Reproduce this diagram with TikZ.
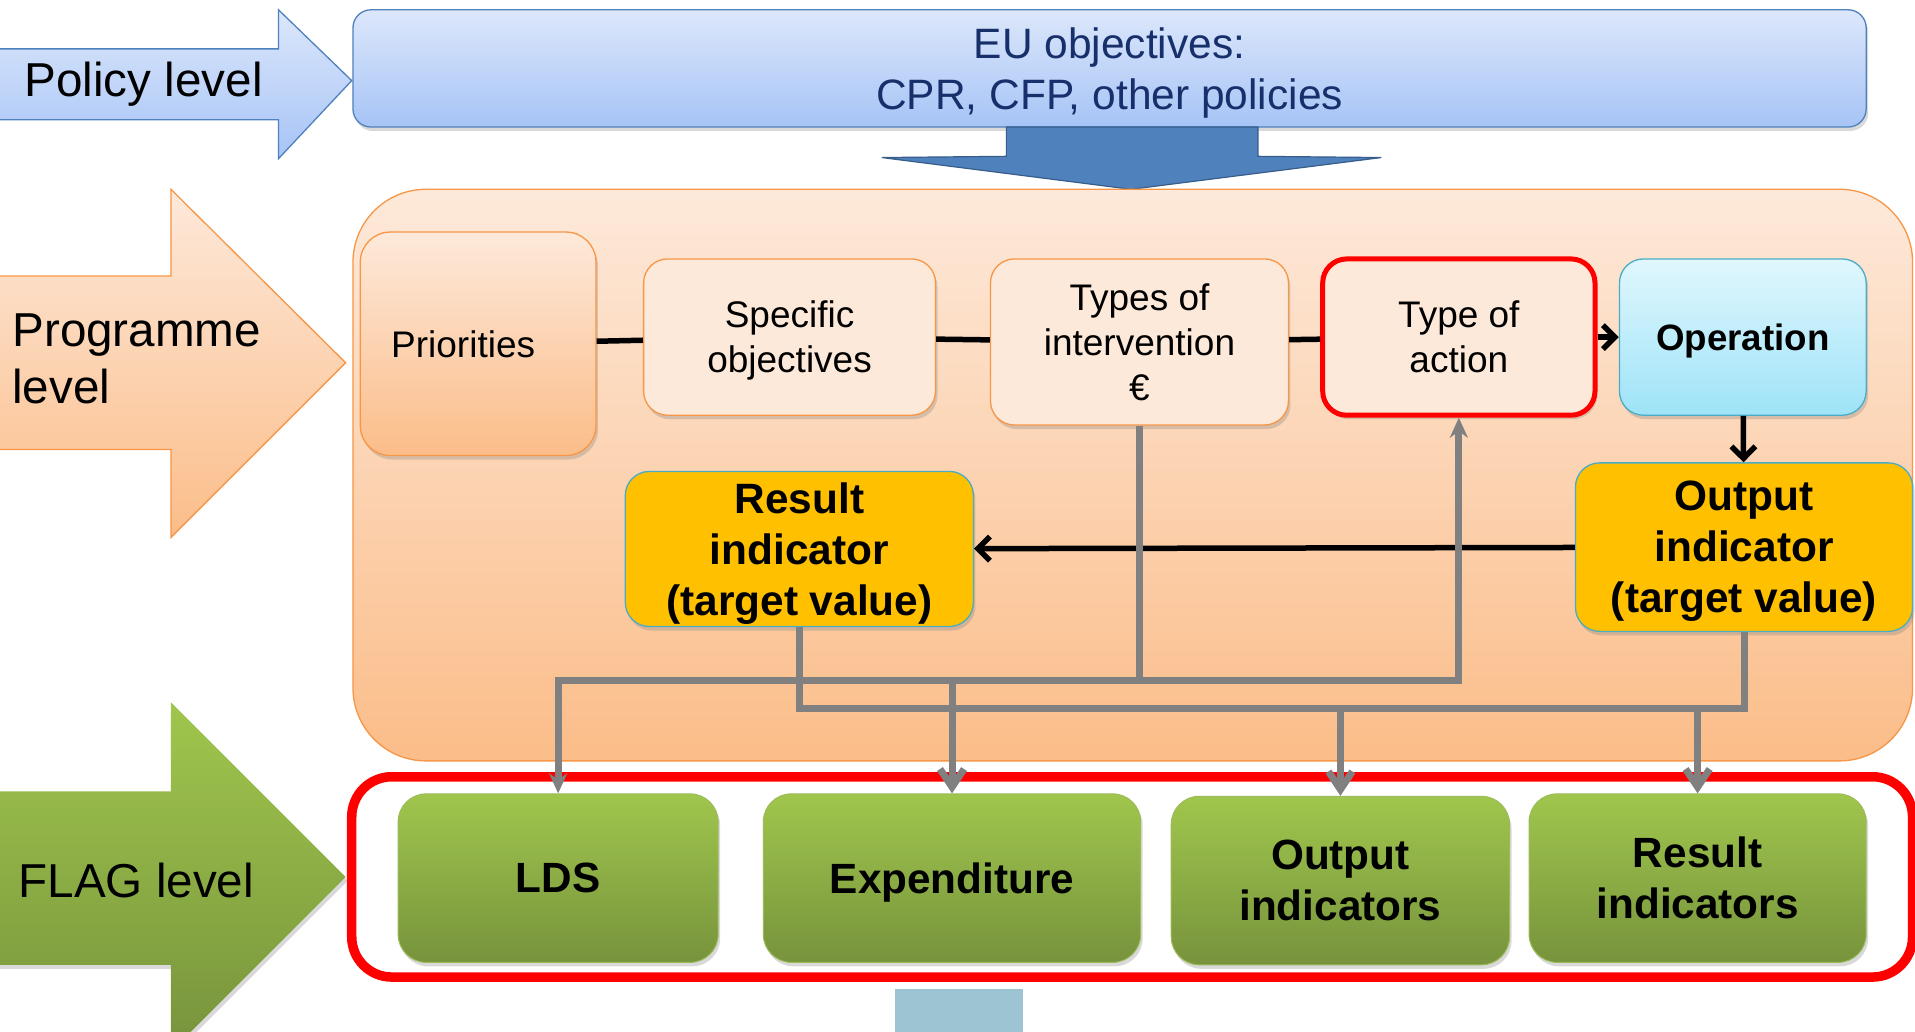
\documentclass[tikz,border=0pt]{standalone}
\usepackage{fontspec}
\setmainfont{Liberation Sans}
\usetikzlibrary{arrows.meta,shadows}

\definecolor{polblue}{HTML}{4F81BD}
\definecolor{polbluedark}{HTML}{385D8A}
\definecolor{poltop}{HTML}{DCE7FB}
\definecolor{polbot}{HTML}{A6C4F6}
\definecolor{eutext}{HTML}{17306B}
\definecolor{progorange}{HTML}{F79646}
\definecolor{progtop}{HTML}{FDE9DA}
\definecolor{progbot}{HTML}{FBBD89}
\definecolor{peach}{HTML}{FDE9D9}
\definecolor{opertop}{HTML}{E0F7FD}
\definecolor{operbot}{HTML}{9EE3F8}
\definecolor{operline}{HTML}{4BACC6}
\definecolor{indyellow}{HTML}{FFC000}
\definecolor{flagtop}{HTML}{A0C64D}
\definecolor{flagbot}{HTML}{77933C}
\definecolor{flagline}{HTML}{9BBB59}
\definecolor{stubblue}{HTML}{9DC4D2}

\begin{document}
\begin{tikzpicture}[x=1.2213pt,y=-1.2213pt,
    lvltext/.style={font=\fontsize{47.6}{57}\selectfont,align=left,anchor=west,inner sep=0pt},
    shade/.style={drop shadow={shadow xshift=2pt,shadow yshift=-4pt,opacity=0.3}},
    box/.style={draw=progorange,line width=1.3pt,rounded corners=24pt,fill=peach,align=center,
      font=\fontsize{37}{45}\selectfont,shade},
    indbox/.style={draw=operline,line width=1.3pt,rounded corners=24pt,fill=indyellow,align=center,
      font=\bfseries\fontsize{42.4}{51}\selectfont,shade},
    flagbox/.style={draw=flagline,line width=1pt,rounded corners=28pt,top color=flagtop,bottom color=flagbot,
      align=center,minimum height=168.5pt,text depth=-9pt,font=\bfseries\fontsize{42.3}{51}\selectfont,shade},
    blackline/.style={line width=5.5pt,black},
    blacktip/.style={-{Straight Barb[length=12pt,width=24pt]}},
    grayline/.style={line width=7pt,gray}]
    \useasboundingbox (0,0) rectangle (1568,845);
    \clip (0,0) rectangle (1568,845);

    % level arrows
    \draw[draw=polblue,line width=1.3pt,top color=poltop,bottom color=polbot]
        (-5,40) -- (228,40) -- (228,8) -- (288,66) -- (228,130) -- (228,98) -- (-5,98) -- cycle;
    \node[lvltext] (policy) at (20,69) {Policy level};
    \draw[draw=progorange,line width=1.3pt,top color=progtop,bottom color=progbot]
        (-5,226) -- (140,226) -- (140,155) -- (283,297) -- (140,440) -- (140,368) -- (-5,368) -- cycle;
    \node[lvltext] (programme) at (10,294) {Programme\\level};
    \shade[top color=flagtop,bottom color=flagbot]
        (-5,648) -- (140,648) -- (140,575) -- (283,718) -- (140,861) -- (140,790) -- (-5,790) -- cycle;
    \node[lvltext] (flaglvl) at (15,721) {FLAG level};

    % policy level
    \node[draw=polblue,line width=1.3pt,rounded corners=18pt,top color=poltop,bottom color=polbot,
        minimum width=1513.2pt,minimum height=117.2pt,align=center,text=eutext,text depth=-5.5pt,
        font=\fontsize{42.5}{51}\selectfont,shade] (eu) at (908.5,56) {EU objectives:\\CPR, CFP, other policies};
    \draw[draw=polbluedark,fill=polblue,line width=1.2pt]
        (824,104) -- (1030,104) -- (1030,128) -- (1131,129) -- (926,155) -- (722,129) -- (824,128) -- cycle;

    % programme level
    \node[draw=progorange,line width=1.3pt,rounded corners=73pt,top color=progtop,bottom color=progbot,
        minimum width=1559.6pt,minimum height=571.6pt] (prog) at (927.5,389) {};

    \node[box,top color=progtop,bottom color=progbot,rounded corners=30pt,
        minimum width=235.7pt,minimum height=223.5pt] (prio) at (391.5,281.5) {Priorities\hspace*{30pt}};
    \node[box,text depth=0pt,minimum width=291.9pt,minimum height=156.3pt] (spec) at (646.5,276) {Specific\\objectives};
    \node[box,minimum width=298pt,minimum height=166.1pt] (types) at (933,280) {Types of\\intervention\\€};
    \node[box,draw=red,line width=5pt,minimum width=272.3pt,minimum height=156.3pt] (action) at (1194.5,276) {Type of\\action};
    \node[box,draw=operline,top color=opertop,bottom color=operbot,text depth=-2pt,
        font=\bfseries\fontsize{36.7}{45}\selectfont,
        minimum width=246.7pt,minimum height=156.3pt] (oper) at (1427,276) {Operation};
    \node[indbox,text depth=-6pt,minimum width=337.1pt,minimum height=168.5pt] (outind) at (1428,448) {Output\\indicator\\(target value)};
    \node[indbox,text depth=-1pt,minimum width=348.1pt,minimum height=155.1pt] (resind) at (654.5,449.5) {Result\\indicator\\(target value)};

    \draw[blackline] (prio) -- (spec);
    \draw[blackline] (spec) -- (types);
    \draw[blackline] (types) -- (action);
    \draw[blackline,blacktip] (action) -- (oper);
    \draw[blackline,blacktip] (oper) -- (outind);
    \draw[blackline,blacktip] (outind) -- (resind);

    % FLAG level
    \node[draw=red,line width=9.5pt,rounded corners=40pt,minimum width=1560.8pt,minimum height=200.3pt] (flag) at (927,718) {};
    \node[flagbox,minimum width=320pt] (lds) at (457,719) {LDS};
    \node[flagbox,minimum width=377.4pt] (exp) at (779.5,719) {Expenditure};
    \node[flagbox,minimum width=338.3pt] (outs) at (1097.5,721) {Output\\indicators};
    \node[flagbox,minimum width=337.1pt] (ress) at (1390,719) {Result\\indicators};
    \fill[stubblue] (733,810) rectangle (838,850);

    % links down to FLAG
    \coordinate (ja) at (933,557);
    \coordinate (jb) at (1428,580);
    \draw[grayline] (types) -- (ja);
    \draw[grayline,-{Stealth[length=20pt,width=18pt]}] (ja) -| (action);
    \draw[grayline,-{Stealth[length=20pt,width=18pt]}] (ja) -| (lds);
    \draw[grayline,-{Straight Barb[length=18pt,width=24pt]}] (ja) -| (exp);
    \draw[grayline] (resind) |- (jb) -- (outind);
    \draw[grayline,-{Straight Barb[length=18pt,width=24pt]}] (outs.north |- jb) -- (outs);
    \draw[grayline,-{Straight Barb[length=18pt,width=24pt]}] (ress.north |- jb) -- (ress);
\end{tikzpicture}
\end{document}
